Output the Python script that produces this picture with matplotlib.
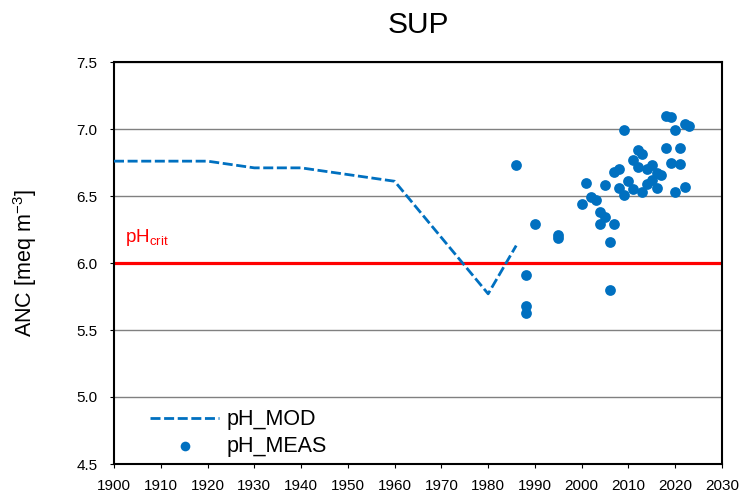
import matplotlib
matplotlib.use("Agg")
import matplotlib.pyplot as plt

plt.rcParams['font.family'] = ['Liberation Sans', 'DejaVu Sans']

# modelled pH
mod_years = [1900, 1920, 1930, 1940, 1960, 1980, 1986]
mod_ph = [6.76, 6.76, 6.71, 6.71, 6.61, 5.77, 6.13]

# measured pH
meas_years = [1986, 1988, 1988, 1988, 1990, 1995, 1995, 2000, 2001, 2002, 2003,
              2004, 2004, 2005, 2005, 2006, 2006, 2007, 2007, 2008, 2008, 2009,
              2009, 2010, 2011, 2011, 2012, 2012, 2013, 2013, 2014, 2014, 2015,
              2015, 2016, 2016, 2017, 2018, 2018, 2019, 2019, 2020, 2020, 2021,
              2021, 2022, 2022, 2023]
meas_ph = [6.73, 5.91, 5.68, 5.63, 6.29, 6.21, 6.19, 6.44, 6.60, 6.49, 6.47,
           6.38, 6.29, 6.34, 6.58, 6.16, 5.80, 6.29, 6.68, 6.70, 6.56, 6.51,
           6.99, 6.61, 6.77, 6.55, 6.84, 6.72, 6.81, 6.53, 6.70, 6.59, 6.73,
           6.62, 6.56, 6.67, 6.66, 6.86, 7.10, 7.09, 6.75, 6.99, 6.53, 6.86,
           6.74, 7.04, 6.57, 7.02]

ph_crit = 6.0
blue = '#0070C0'

fig = plt.figure(figsize=(7.47, 4.92), dpi=100)
ax = fig.add_axes([114/747, 28/492, 608/747, 402/492])

ax.axhline(ph_crit, color='#FF0000', lw=2.3, zorder=2)
ax.plot(mod_years, mod_ph, color=blue, lw=2, ls=(0, (3.6, 1.3)), label='pH_MOD', zorder=3)
ax.scatter(meas_years, meas_ph, s=60, color=blue, label='pH_MEAS', zorder=4, linewidths=0)

ax.text(1902.3, 6.16, 'pH$_{\\mathregular{crit}}$', color='#FF0000', fontsize=13.5)

ax.set_xlim(1900, 2030)
ax.set_ylim(4.5, 7.5)
ax.set_xticks(range(1900, 2031, 10))
ax.set_yticks([4.5, 5.0, 5.5, 6.0, 6.5, 7.0, 7.5])
ax.set_yticklabels(['4.5', '5.0', '5.5', '6.0', '6.5', '7.0', '7.5'])
ax.yaxis.grid(True, color='#808080', lw=1)
ax.set_axisbelow(True)
ax.tick_params(axis='both', labelsize=11, direction='out', length=3, color='black')
ax.tick_params(axis='x', pad=8)
ax.tick_params(axis='y', pad=9)
for s in ax.spines.values():
    s.set_linewidth(1.5)

ax.set_ylabel('ANC [meq m$^{\\mathregular{-3}}$]', fontsize=15.5)
ax.yaxis.set_label_coords(-0.123, 0.5)
ax.set_title('SUP', fontsize=21.5, pad=21)

ax.legend(loc='lower left', frameon=False, fontsize=15.5, bbox_to_anchor=(0.028, -0.03),
          handlelength=3.2, handletextpad=0.35, labelspacing=0.25, markerscale=0.9)

fig.savefig('out.png', dpi=100)
